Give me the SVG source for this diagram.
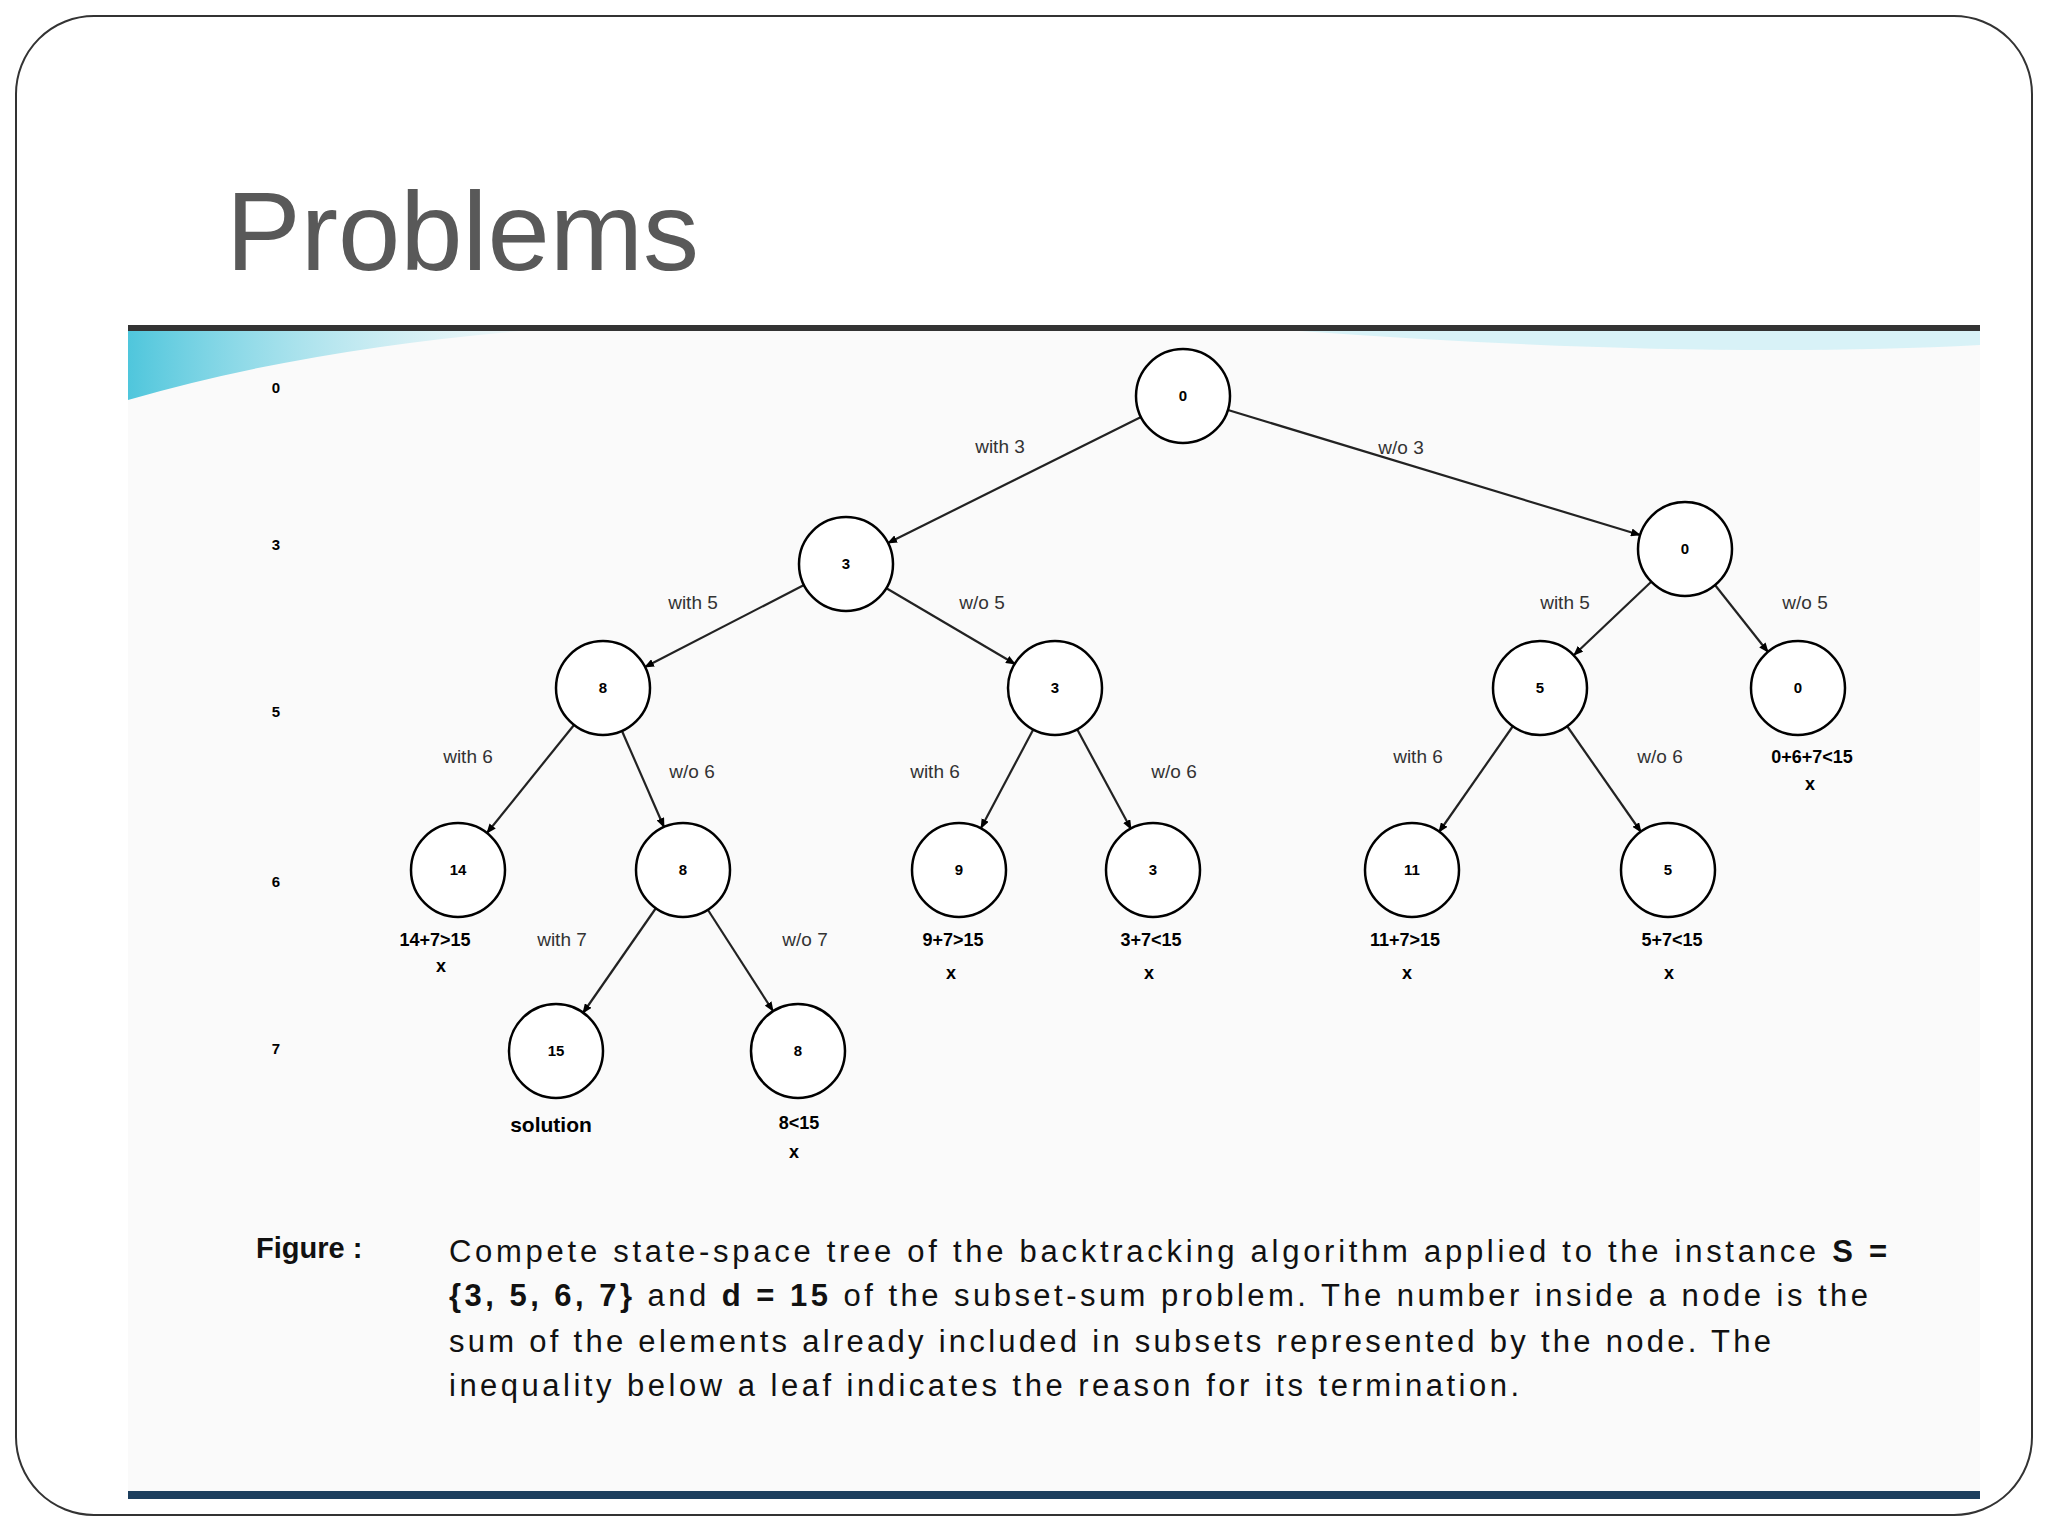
<svg xmlns="http://www.w3.org/2000/svg" width="2048" height="1536" viewBox="0 0 2048 1536">
<style>
.n circle{fill:#fff;stroke:#000;stroke-width:2.5}
.n text{font:bold 15px "Liberation Sans",Arial,sans-serif;text-anchor:middle;fill:#000}
.lb{font:19px "Liberation Sans",Arial,sans-serif;fill:#333;text-anchor:middle}
.nt{font:bold 18px "Liberation Sans",Arial,sans-serif;fill:#000;text-anchor:middle}
.lv{font:bold 15px "Liberation Sans",Arial,sans-serif;fill:#000;text-anchor:middle}
.cap{font:31px "Liberation Sans",Arial,sans-serif;fill:#111}
#edges line{stroke:#222;stroke-width:2.2;marker-end:url(#ah)}
</style>
<defs>
<marker id="ah" markerWidth="10" markerHeight="8" refX="9" refY="4" orient="auto" markerUnits="userSpaceOnUse"><path d="M0,0 L10,4 L0,8 Z" fill="#000"/></marker>
<linearGradient id="cy" x1="0" x2="1"><stop offset="0" stop-color="#4fc6dc"/><stop offset="1" stop-color="#bfeaf2" stop-opacity="0.2"/></linearGradient>
</defs>
<rect width="2048" height="1536" fill="#fff"/>
<rect x="16" y="16" width="2016" height="1499" rx="78" fill="#fff" stroke="#333" stroke-width="2"/>
<text x="226" y="270" font-family="Liberation Sans,Arial,sans-serif" font-size="112" fill="#595959">Problems</text>
<rect x="128" y="331" width="1852" height="1160" fill="#fafafa"/>
<path d="M128,331 L520,331 Q300,350 128,400 Z" fill="url(#cy)"/>
<path d="M1300,331 L1980,331 L1980,345 Q1700,360 1300,331 Z" fill="#d8f2f7"/>
<rect x="128" y="325" width="1852" height="6" fill="#333"/>
<rect x="128" y="1491" width="1852" height="8" fill="#1d3f5e"/>
<g id="levels">
<text class="lv" x="276" y="393">0</text><text class="lv" x="276" y="550">3</text><text class="lv" x="276" y="717">5</text><text class="lv" x="276" y="887">6</text><text class="lv" x="276" y="1054">7</text>
</g>
<g id="edges">
<line x1="1141" y1="417" x2="888" y2="543"/>
<line x1="1228" y1="410" x2="1640" y2="535"/>
<line x1="804" y1="585" x2="645" y2="667"/>
<line x1="886" y1="588" x2="1015" y2="664"/>
<line x1="1651" y1="582" x2="1574" y2="655"/>
<line x1="1715" y1="585" x2="1768" y2="652"/>
<line x1="574" y1="725" x2="487" y2="833"/>
<line x1="622" y1="731" x2="664" y2="827"/>
<line x1="1033" y1="730" x2="981" y2="828"/>
<line x1="1077" y1="729" x2="1131" y2="829"/>
<line x1="1513" y1="726" x2="1439" y2="832"/>
<line x1="1567" y1="726" x2="1641" y2="832"/>
<line x1="656" y1="908" x2="583" y2="1013"/>
<line x1="708" y1="910" x2="773" y2="1011"/>
<text class="lb" x="1000" y="453">with 3</text><text class="lb" x="1401" y="454">w/o 3</text>
<text class="lb" x="693" y="609">with 5</text><text class="lb" x="982" y="609">w/o 5</text>
<text class="lb" x="1565" y="609">with 5</text><text class="lb" x="1805" y="609">w/o 5</text>
<text class="lb" x="468" y="763">with 6</text><text class="lb" x="692" y="778">w/o 6</text>
<text class="lb" x="935" y="778">with 6</text><text class="lb" x="1174" y="778">w/o 6</text>
<text class="lb" x="1418" y="763">with 6</text><text class="lb" x="1660" y="763">w/o 6</text>
<text class="lb" x="562" y="946">with 7</text><text class="lb" x="805" y="946">w/o 7</text>
</g>
<g id="n0" class="n"><circle cx="1183" cy="396" r="47"/><text x="1183" y="401">0</text></g>
<g id="n1" class="n"><circle cx="846" cy="564" r="47"/><text x="846" y="569">3</text></g>
<g id="n2" class="n"><circle cx="1685" cy="549" r="47"/><text x="1685" y="554">0</text></g>
<g id="n3" class="n"><circle cx="603" cy="688" r="47"/><text x="603" y="693">8</text></g>
<g id="n4" class="n"><circle cx="1055" cy="688" r="47"/><text x="1055" y="693">3</text></g>
<g id="n5" class="n"><circle cx="1540" cy="688" r="47"/><text x="1540" y="693">5</text></g>
<g id="n6" class="n"><circle cx="1798" cy="688" r="47"/><text x="1798" y="693">0</text></g>
<g id="n7" class="n"><circle cx="458" cy="870" r="47"/><text x="458" y="875">14</text></g>
<g id="n8" class="n"><circle cx="683" cy="870" r="47"/><text x="683" y="875">8</text></g>
<g id="n9" class="n"><circle cx="959" cy="870" r="47"/><text x="959" y="875">9</text></g>
<g id="n10" class="n"><circle cx="1153" cy="870" r="47"/><text x="1153" y="875">3</text></g>
<g id="n11" class="n"><circle cx="1412" cy="870" r="47"/><text x="1412" y="875">11</text></g>
<g id="n12" class="n"><circle cx="1668" cy="870" r="47"/><text x="1668" y="875">5</text></g>
<g id="n13" class="n"><circle cx="556" cy="1051" r="47"/><text x="556" y="1056">15</text></g>
<g id="n14" class="n"><circle cx="798" cy="1051" r="47"/><text x="798" y="1056">8</text></g>
<g id="notes">
<text class="nt" x="435" y="946">14+7&gt;15</text><text class="nt" x="441" y="972">x</text>
<text class="nt" x="953" y="946">9+7&gt;15</text><text class="nt" x="951" y="979">x</text>
<text class="nt" x="1151" y="946">3+7&lt;15</text><text class="nt" x="1149" y="979">x</text>
<text class="nt" x="1405" y="946">11+7&gt;15</text><text class="nt" x="1407" y="979">x</text>
<text class="nt" x="1672" y="946">5+7&lt;15</text><text class="nt" x="1669" y="979">x</text>
<text class="nt" x="1812" y="763">0+6+7&lt;15</text><text class="nt" x="1810" y="790">x</text>
<text class="nt" x="551" y="1132" style="font-size:21px">solution</text>
<text class="nt" x="799" y="1129">8&lt;15</text><text class="nt" x="794" y="1158">x</text>
</g>
<g id="caption">
<text class="cap" x="256" y="1258" style="font-weight:bold;font-size:29px">Figure :</text>
<text class="cap" x="449" y="1262" textLength="1438" lengthAdjust="spacing">Compete state-space tree of the backtracking algorithm applied to the instance <tspan style="font-weight:bold">S =</tspan></text>
<text class="cap" x="449" y="1306" textLength="1419" lengthAdjust="spacing"><tspan style="font-weight:bold">{3, 5, 6, 7}</tspan> and <tspan style="font-weight:bold">d = 15</tspan> of the subset-sum problem. The number inside a node is the</text>
<text class="cap" x="449" y="1352" textLength="1322" lengthAdjust="spacing">sum of the elements already included in subsets represented by the node. The</text>
<text class="cap" x="449" y="1396" textLength="1070" lengthAdjust="spacing">inequality below a leaf indicates the reason for its termination.</text>
</g>
</svg>
